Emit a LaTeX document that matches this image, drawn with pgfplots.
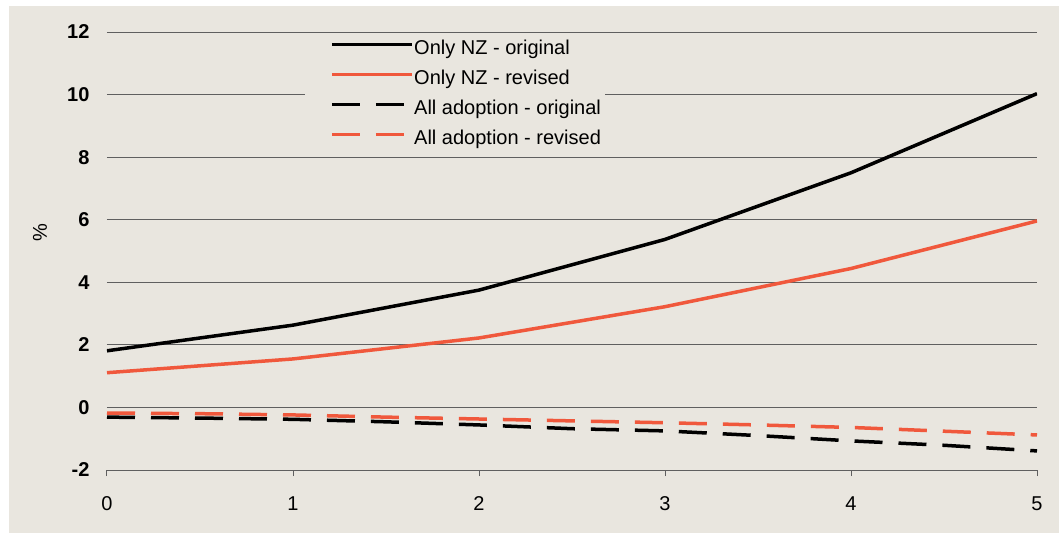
\documentclass[border=0pt]{standalone}
\usepackage{pgfplots}
\pgfplotsset{compat=1.18}
\usepackage{fontspec}
\setmainfont{Liberation Sans}
\definecolor{bg}{RGB}{233,230,223}
\definecolor{nzred}{RGB}{240,88,60}
\definecolor{gridc}{RGB}{95,95,95}
\begin{document}
\begin{tikzpicture}
\fill[white] (-107bp,-63bp) rectangle (952bp,470bp);
\fill[bg] (-98bp,-63bp) rectangle (952bp,464bp);
\useasboundingbox (-107bp,-63bp) rectangle (952bp,470bp);
\begin{axis}[
  scale only axis, width=930bp, height=438bp,
  xmin=0, xmax=5, ymin=-2, ymax=12,
  axis x line*=bottom, axis y line*=left,
  axis line style={-},
  y axis line style={draw=none},
  x axis line style={draw=gridc, line width=1bp},
  xtick={0,1,2,3,4,5}, xticklabels={0,1,2,3,4,5},
  ytick={-2,0,2,4,6,8,10,12},
  yticklabels={\textbf{-2},\textbf{0},\textbf{2},\textbf{4},\textbf{6},\textbf{8},\textbf{10},\textbf{12}},
  ymajorgrids, grid style={gridc, line width=0.9bp},
  ytick style={draw=none},
  xtick style={draw=gridc, line width=1bp},
  tick align=outside, major tick length=6bp,
  font=\fontsize{20bp}{24bp}\selectfont,
  ticklabel style={font=\fontsize{20bp}{24bp}\selectfont},
  yticklabel style={xshift=-8bp},
  xticklabel style={yshift=-17bp},
  ylabel={\%},
  every axis y label/.style={at={(axis description cs:-0.072,0.543)}, rotate=90, anchor=center},
  legend style={at={(0.2129,0.999)}, anchor=north west, fill=bg, draw=none,
    inner xsep=4bp, inner ysep=7bp, font=\fontsize{20bp}{24bp}\selectfont,
    row sep=9.8bp, nodes={inner sep=0pt, text height=15bp, text depth=5bp}},
  legend cell align=left,
  legend image code/.code={\path (-21bp,0bp); \draw[#1, line width=3bp] (0bp,5bp) -- (80bp,5bp); \path (80.5bp,0bp);},
]
\addplot[black, line width=3.5bp] coordinates {(0,1.81)(1,2.63)(2,3.75)(3,5.37)(4,7.50)(5,10.03)};
\addlegendentry{Only NZ - original}
\addplot[nzred, line width=3.5bp] coordinates {(0,1.11)(1,1.55)(2,2.22)(3,3.22)(4,4.44)(5,5.96)};
\addlegendentry{Only NZ - revised}
\addplot[black, line width=3.5bp, dash pattern=on 28bp off 16bp] coordinates {(0,-0.31)(0.5,-0.34)(1,-0.38)(1.5,-0.46)(2,-0.56)(2.5,-0.68)(3,-0.75)(3.5,-0.90)(4,-1.07)(4.5,-1.21)(5,-1.39)};
\addlegendentry{All adoption - original}
\addplot[nzred, line width=3.5bp, dash pattern=on 28bp off 16bp] coordinates {(0,-0.18)(0.5,-0.20)(1,-0.24)(1.5,-0.31)(2,-0.37)(2.5,-0.43)(3,-0.49)(3.5,-0.56)(4,-0.64)(4.5,-0.76)(5,-0.88)};
\addlegendentry{All adoption - revised}
\end{axis}
\end{tikzpicture}
\end{document}
